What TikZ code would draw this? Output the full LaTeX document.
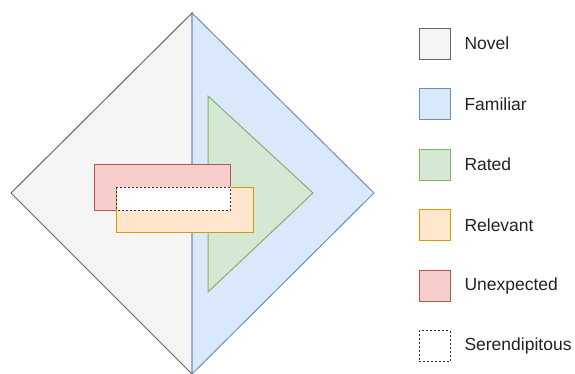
\documentclass[tikz,border=0pt]{standalone}
\usepackage{fontspec}
\setmainfont{Liberation Sans}
\definecolor{novelFill}{HTML}{F5F5F5}\definecolor{novelLine}{HTML}{666666}
\definecolor{famFill}{HTML}{DAE8FC}\definecolor{famLine}{HTML}{6C8EBF}
\definecolor{ratedFill}{HTML}{D5E8D4}\definecolor{ratedLine}{HTML}{82B366}
\definecolor{relFill}{HTML}{FFE6CC}\definecolor{relLine}{HTML}{D79B00}
\definecolor{unexFill}{HTML}{F8CECC}\definecolor{unexLine}{HTML}{B85450}
\definecolor{txt}{HTML}{222222}
\tikzset{
  novel/.style={fill=novelFill,draw=novelLine},
  familiar/.style={fill=famFill,draw=famLine},
  rated/.style={fill=ratedFill,draw=ratedLine},
  relevant/.style={fill=relFill,draw=relLine},
  unexpected/.style={fill=unexFill,draw=unexLine},
  serendip/.style={fill=white,draw=black!80,dashed,dash pattern=on 2pt off 2pt},
  keybox/.style={minimum width=31pt,minimum height=31pt,inner sep=0pt,line width=1pt},
  keytext/.style={anchor=west,inner sep=0pt,text=txt,font=\fontsize{17.5}{20}\selectfont},
}
\begin{document}
\begin{tikzpicture}[x=1pt,y=-1pt,line width=1pt,line join=miter]
\useasboundingbox (0,0) rectangle (575,373);
% diamond: novel (left half) and familiar (right half)
\filldraw[novel] (192,13) -- (11,193) -- (192,374) -- cycle;
\filldraw[familiar] (192,13) -- (374,193) -- (192,374) -- cycle;
% rated triangle
\filldraw[rated] (208,96) -- (313,193) -- (208,292) -- cycle;
% unexpected and relevant bars, with their overlap
\filldraw[unexpected] (94.3,164.7) rectangle (230.7,210);
\filldraw[relevant] (116.7,187.3) rectangle (253.3,232);
\filldraw[serendip] (116.7,187.3) rectangle (230.7,210);
% legend
\node[keybox,novel]      (kNovel) at (434.5,43.7)  {};
\node[keybox,familiar]   (kFam)   at (434.5,104.2) {};
\node[keybox,rated]      (kRated) at (434.5,164.7) {};
\node[keybox,relevant]   (kRel)   at (434.5,225)   {};
\node[keybox,unexpected] (kUnex)  at (434.5,285.5) {};
\node[keybox,serendip]   (kSer)   at (434.5,346)   {};
\node[keytext] (tNovel) at (464,43.7)  {Novel};
\node[keytext] (tFam)   at (464,104.2) {Familiar};
\node[keytext] (tRated) at (464,164.7) {Rated};
\node[keytext] (tRel)   at (464,225)   {Relevant};
\node[keytext] (tUnex)  at (464,285.5) {Unexpected};
\node[keytext] (tSer)   at (464,346)   {Serendipitous};
\end{tikzpicture}
\end{document}
